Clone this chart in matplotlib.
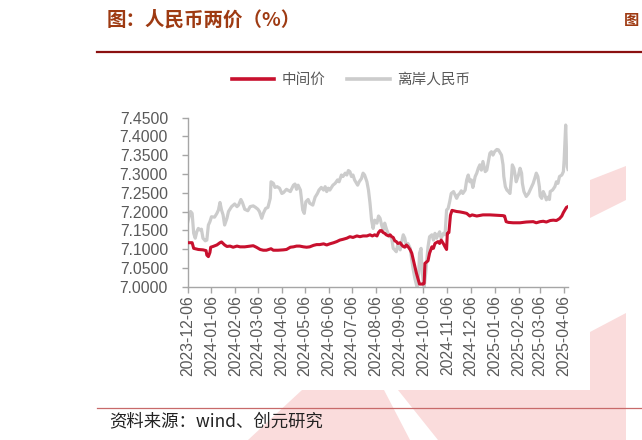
import matplotlib
matplotlib.use("Agg")
import matplotlib.pyplot as plt
import matplotlib.dates as mdates
from matplotlib.lines import Line2D
from matplotlib.patches import Polygon
import pandas as pd

# ---------------- data ----------------
mid_dates = [
    "2023-12-06", "2023-12-12", "2023-12-14", "2023-12-20", "2023-12-26", "2023-12-30", "2023-12-31",
    "2024-01-02", "2024-01-04", "2024-01-05", "2024-01-08", "2024-01-13", "2024-01-17", "2024-01-19",
    "2024-01-23", "2024-01-26", "2024-01-30", "2024-02-03", "2024-02-08", "2024-02-12", "2024-02-18",
    "2024-02-25", "2024-02-29", "2024-03-04", "2024-03-09", "2024-03-13", "2024-03-17", "2024-03-23",
    "2024-03-26", "2024-04-01", "2024-04-08", "2024-04-12", "2024-04-17", "2024-04-21", "2024-04-25",
    "2024-04-29", "2024-05-04", "2024-05-08", "2024-05-12", "2024-05-17", "2024-05-21", "2024-05-25",
    "2024-05-30", "2024-06-03", "2024-06-07", "2024-06-12", "2024-06-16", "2024-06-20", "2024-06-24",
    "2024-06-29", "2024-07-03", "2024-07-07", "2024-07-12", "2024-07-16", "2024-07-20", "2024-07-25",
    "2024-07-29", "2024-08-01", "2024-08-04", "2024-08-07", "2024-08-09", "2024-08-11", "2024-08-13",
    "2024-08-15", "2024-08-17", "2024-08-19", "2024-08-22", "2024-08-24", "2024-08-26", "2024-08-28",
    "2024-08-30", "2024-09-01", "2024-09-03", "2024-09-06", "2024-09-08", "2024-09-10", "2024-09-12",
    "2024-09-14", "2024-09-16", "2024-09-19", "2024-09-21", "2024-09-23", "2024-09-25", "2024-09-27",
    "2024-09-29", "2024-10-01", "2024-10-06", "2024-10-07", "2024-10-08", "2024-10-12", "2024-10-14",
    "2024-10-17", "2024-10-19", "2024-10-21", "2024-10-25", "2024-10-27", "2024-10-29", "2024-11-01",
    "2024-11-03", "2024-11-05", "2024-11-06", "2024-11-08", "2024-11-10", "2024-11-12", "2024-11-18",
    "2024-11-22", "2024-11-27", "2024-12-01", "2024-12-05", "2024-12-08", "2024-12-14", "2024-12-22",
    "2024-12-31", "2025-01-09", "2025-01-17", "2025-01-19", "2025-01-21", "2025-01-24", "2025-01-30",
    "2025-02-08", "2025-02-16", "2025-02-25", "2025-03-01", "2025-03-06", "2025-03-10", "2025-03-14",
    "2025-03-19", "2025-03-23", "2025-03-27", "2025-03-31", "2025-04-03", "2025-04-05", "2025-04-07",
    "2025-04-09", "2025-04-11",
]
mid_values = [
    7.117, 7.117, 7.102, 7.099, 7.098, 7.096, 7.084,
    7.080, 7.091, 7.105, 7.107, 7.111, 7.117, 7.119,
    7.111, 7.107, 7.108, 7.105, 7.108, 7.106, 7.106,
    7.108, 7.109, 7.105, 7.099, 7.097, 7.097, 7.101,
    7.097, 7.097, 7.098, 7.099, 7.105, 7.106, 7.108,
    7.108, 7.106, 7.105, 7.106, 7.110, 7.112, 7.112,
    7.114, 7.111, 7.114, 7.117, 7.120, 7.124, 7.126,
    7.129, 7.133, 7.131, 7.135, 7.133, 7.135, 7.135,
    7.138, 7.135, 7.138, 7.135, 7.144, 7.149, 7.149,
    7.144, 7.142, 7.138, 7.135, 7.138, 7.133, 7.131,
    7.122, 7.120, 7.115, 7.117, 7.111, 7.107, 7.105,
    7.111, 7.107, 7.098, 7.089, 7.071, 7.053, 7.036,
    7.022, 7.007, 7.007, 7.009, 7.062, 7.069, 7.089,
    7.106, 7.102, 7.115, 7.120, 7.115, 7.124, 7.114,
    7.106, 7.099, 7.142, 7.144, 7.190, 7.203, 7.200,
    7.199, 7.197, 7.195, 7.188, 7.191, 7.188, 7.191,
    7.191, 7.190, 7.189, 7.188, 7.173, 7.171, 7.170,
    7.170, 7.172, 7.173, 7.170, 7.173, 7.174, 7.172,
    7.176, 7.177, 7.176, 7.181, 7.188, 7.197, 7.204,
    7.211, 7.213,
]

cnh_dates = [
    "2023-12-06", "2023-12-08", "2023-12-10", "2023-12-12", "2023-12-14", "2023-12-16", "2023-12-18",
    "2023-12-20", "2023-12-22", "2023-12-24", "2023-12-26", "2023-12-29", "2023-12-31", "2024-01-02",
    "2024-01-04", "2024-01-06", "2024-01-10", "2024-01-13", "2024-01-15", "2024-01-17", "2024-01-19",
    "2024-01-21", "2024-01-23", "2024-01-26", "2024-01-28", "2024-02-01", "2024-02-05", "2024-02-08",
    "2024-02-10", "2024-02-13", "2024-02-15", "2024-02-18", "2024-02-22", "2024-02-25", "2024-02-29",
    "2024-03-03", "2024-03-06", "2024-03-08", "2024-03-11", "2024-03-13", "2024-03-16", "2024-03-19",
    "2024-03-22", "2024-03-23", "2024-03-26", "2024-03-28", "2024-03-31", "2024-04-03", "2024-04-06",
    "2024-04-08", "2024-04-12", "2024-04-17", "2024-04-21", "2024-04-23", "2024-04-25", "2024-04-27",
    "2024-04-30", "2024-05-03", "2024-05-05", "2024-05-07", "2024-05-10", "2024-05-12", "2024-05-16",
    "2024-05-19", "2024-05-22", "2024-05-24", "2024-05-27", "2024-05-30", "2024-06-01", "2024-06-03",
    "2024-06-05", "2024-06-07", "2024-06-11", "2024-06-14", "2024-06-17", "2024-06-19", "2024-06-22",
    "2024-06-24", "2024-06-27", "2024-06-29", "2024-07-01", "2024-07-03", "2024-07-05", "2024-07-07",
    "2024-07-09", "2024-07-13", "2024-07-15", "2024-07-18", "2024-07-20", "2024-07-22", "2024-07-25",
    "2024-07-27", "2024-07-29", "2024-07-31", "2024-08-02", "2024-08-04", "2024-08-07", "2024-08-09",
    "2024-08-11", "2024-08-13", "2024-08-15", "2024-08-17", "2024-08-19", "2024-08-22", "2024-08-24",
    "2024-08-26", "2024-08-28", "2024-08-30", "2024-09-01", "2024-09-03", "2024-09-06", "2024-09-08",
    "2024-09-10", "2024-09-12", "2024-09-14", "2024-09-16", "2024-09-19", "2024-09-21", "2024-09-23",
    "2024-09-25", "2024-09-27", "2024-09-28", "2024-09-30", "2024-10-01", "2024-10-03", "2024-10-04",
    "2024-10-06", "2024-10-07", "2024-10-09", "2024-10-10", "2024-10-12", "2024-10-14", "2024-10-17",
    "2024-10-19", "2024-10-21", "2024-10-23", "2024-10-25", "2024-10-27", "2024-10-29", "2024-11-01",
    "2024-11-03", "2024-11-05", "2024-11-07", "2024-11-09", "2024-11-11", "2024-11-14", "2024-11-16",
    "2024-11-18", "2024-11-20", "2024-11-22", "2024-11-24", "2024-11-26", "2024-11-29", "2024-12-01",
    "2024-12-03", "2024-12-05", "2024-12-07", "2024-12-09", "2024-12-12", "2024-12-14", "2024-12-16",
    "2024-12-18", "2024-12-20", "2024-12-22", "2024-12-25", "2024-12-27", "2024-12-29", "2024-12-31",
    "2025-01-02", "2025-01-04", "2025-01-06", "2025-01-09", "2025-01-11", "2025-01-13", "2025-01-15",
    "2025-01-17", "2025-01-18", "2025-01-20", "2025-01-22", "2025-01-24", "2025-01-26", "2025-01-28",
    "2025-01-29", "2025-01-31", "2025-02-02", "2025-02-03", "2025-02-06", "2025-02-08", "2025-02-10",
    "2025-02-11", "2025-02-13", "2025-02-15", "2025-02-16", "2025-02-19", "2025-02-21", "2025-02-23",
    "2025-02-25", "2025-02-27", "2025-03-01", "2025-03-03", "2025-03-05", "2025-03-06", "2025-03-08",
    "2025-03-10", "2025-03-12", "2025-03-14", "2025-03-16", "2025-03-18", "2025-03-19", "2025-03-22",
    "2025-03-25", "2025-03-27", "2025-03-29", "2025-03-31", "2025-04-03", "2025-04-05", "2025-04-06",
    "2025-04-08", "2025-04-09", "2025-04-10", "2025-04-11",
]
cnh_values = [
    7.169, 7.186, 7.200, 7.195, 7.142, 7.129, 7.146,
    7.155, 7.151, 7.153, 7.129, 7.122, 7.124, 7.164,
    7.173, 7.186, 7.185, 7.195, 7.204, 7.224, 7.204,
    7.191, 7.164, 7.182, 7.200, 7.213, 7.220, 7.213,
    7.217, 7.232, 7.224, 7.206, 7.202, 7.213, 7.215,
    7.211, 7.206, 7.200, 7.182, 7.195, 7.208, 7.211,
    7.235, 7.279, 7.275, 7.264, 7.266, 7.262, 7.248,
    7.250, 7.259, 7.253, 7.270, 7.273, 7.259, 7.270,
    7.257, 7.204, 7.195, 7.226, 7.232, 7.222, 7.217,
    7.238, 7.248, 7.257, 7.264, 7.257, 7.266, 7.253,
    7.262, 7.257, 7.270, 7.275, 7.284, 7.279, 7.297,
    7.293, 7.302, 7.297, 7.309, 7.306, 7.293, 7.297,
    7.284, 7.270, 7.279, 7.288, 7.302, 7.297, 7.279,
    7.257, 7.222, 7.177, 7.155, 7.177, 7.169, 7.188,
    7.182, 7.164, 7.151, 7.169, 7.155, 7.138, 7.133,
    7.129, 7.102, 7.098, 7.093, 7.115, 7.098, 7.120,
    7.138, 7.129, 7.107, 7.115, 7.102, 7.071, 7.044,
    7.022, 7.005, 7.000, 7.036, 7.089, 7.102, 7.053,
    7.009, 7.000, 7.036, 7.062, 7.106, 7.133, 7.138,
    7.124, 7.142, 7.129, 7.138, 7.146, 7.129, 7.142,
    7.138, 7.204, 7.208, 7.226, 7.248, 7.253, 7.244,
    7.235, 7.244, 7.248, 7.255, 7.248, 7.257, 7.284,
    7.297, 7.279, 7.284, 7.264, 7.293, 7.302, 7.315,
    7.324, 7.310, 7.333, 7.306, 7.310, 7.333, 7.355,
    7.359, 7.350, 7.359, 7.365, 7.364, 7.357, 7.350,
    7.324, 7.293, 7.266, 7.257, 7.253, 7.248, 7.293,
    7.324, 7.315, 7.293, 7.279, 7.297, 7.315, 7.302,
    7.275, 7.253, 7.244, 7.240, 7.248, 7.257, 7.266,
    7.275, 7.288, 7.302, 7.293, 7.266, 7.241, 7.235,
    7.253, 7.244, 7.231, 7.238, 7.232, 7.253, 7.257,
    7.266, 7.279, 7.275, 7.293, 7.297, 7.306, 7.337,
    7.430, 7.364, 7.319, 7.312,
]

x_ticks = ["2023-12-06", "2024-01-06", "2024-02-06", "2024-03-06", "2024-04-06", "2024-05-06",
           "2024-06-06", "2024-07-06", "2024-08-06", "2024-09-06", "2024-10-06", "2024-11-06",
           "2024-12-06", "2025-01-06", "2025-02-06", "2025-03-06", "2025-04-06"]
x_limits = ["2023-12-06", "2025-04-11"]
y_ticks = [7.00, 7.05, 7.10, 7.15, 7.20, 7.25, 7.30, 7.35, 7.40, 7.45]

series_labels = ["中间价", "离岸人民币"]
title_text = "图：人民币两价（%）"
next_title_text = "图"
source_text = "资料来源：wind、创元研究"

# ---------------- style ----------------
W, H = 642, 440
RED = "#c8102e"
GRAY = "#cccccc"
TXT = "#595959"
CJK = ["Noto Sans CJK SC", "DejaVu Sans"]
plt.rcParams["font.family"] = ["Liberation Sans", "Noto Sans CJK SC", "DejaVu Sans"]


def fx(px):
    return px / W


def fy(py):
    return 1 - py / H


fig = plt.figure(figsize=(W / 100, H / 100), dpi=100)
fig.patch.set_facecolor("white")

# faint watermark pieces visible around the pasted chart
PINK = "#fadcdc"
wm_polys = [
    [(590, 180), (626, 166), (626, 200), (590, 218)],
    [(590, 332), (626, 313), (626, 390), (590, 390)],
    [(248, 440), (302, 390), (384, 390), (410, 440)],
    [(398, 390), (626, 390), (626, 440), (438, 440)],
]
for poly in wm_polys:
    fig.add_artist(Polygon([(fx(a), fy(b)) for a, b in poly], closed=True,
                           transform=fig.transFigure, facecolor=PINK,
                           edgecolor="none", zorder=0))

ax = fig.add_axes([fx(187.5), fy(286.7), fx(568) - fx(187.5), fy(117.5) - fy(286.7)])
ax.set_facecolor("none")

md = pd.to_datetime(mid_dates)
cd = pd.to_datetime(cnh_dates)
l_cnh, = ax.plot(cd, cnh_values, color=GRAY, lw=2.3, solid_joinstyle="round", zorder=2)
l_mid, = ax.plot(md, mid_values, color=RED, lw=2.2, solid_joinstyle="round", zorder=3)

ax.set_xlim(pd.to_datetime(x_limits[0]), pd.to_datetime(x_limits[1]))
ax.set_ylim(y_ticks[0], y_ticks[-1])
ax.set_yticks(y_ticks)
ax.yaxis.set_major_formatter(matplotlib.ticker.FormatStrFormatter("%.4f"))
ax.set_xticks(pd.to_datetime(x_ticks))
ax.xaxis.set_major_formatter(mdates.DateFormatter("%Y-%m-%d"))

for s in ["top", "right"]:
    ax.spines[s].set_visible(False)
for s in ["left", "bottom"]:
    ax.spines[s].set_color("#a6a6a6")
    ax.spines[s].set_linewidth(1.0)

ax.tick_params(axis="y", direction="out", length=4, width=1, color="#a6a6a6",
               labelsize=11.3, labelcolor=TXT, pad=10)
ax.tick_params(axis="x", direction="out", length=4, width=1, color="#a6a6a6",
               labelsize=11.3, labelcolor=TXT, pad=2, rotation=90)
for lab in ax.get_xticklabels():
    lab.set_ha("center")
    lab.set_va("top")

leg = fig.legend([l_mid, l_cnh], series_labels, loc="center",
                 bbox_to_anchor=(fx(351), fy(80)), ncol=2, frameon=False,
                 handlelength=2.9, handletextpad=0.5, columnspacing=1.5,
                 prop={"family": CJK, "size": 10.5})
for t in leg.get_texts():
    t.set_color(TXT)
for h in leg.legend_handles:
    h.set_linewidth(2.6)

# title, rules, source
fig.text(fx(107), fy(20), title_text, fontsize=14, fontweight="bold",
         color="#9e3a12", va="center", ha="left", family=CJK)
fig.text(fx(624), fy(20), next_title_text, fontsize=11, fontweight="bold",
         color="#9e3a12", va="center", ha="left", family=CJK)
fig.add_artist(Line2D([fx(97), fx(642)], [fy(52), fy(52)], color="#8b1010",
                      lw=1.6, transform=fig.transFigure))
fig.add_artist(Line2D([fx(97), fx(642)], [fy(408), fy(408)], color="#c86a6a",
                      lw=0.9, transform=fig.transFigure))
fig.text(fx(109), fy(421.5), source_text, fontsize=12.5, color="#222222",
         va="center", ha="left", family=CJK)

fig.savefig("out.png", dpi=100, facecolor="white")
